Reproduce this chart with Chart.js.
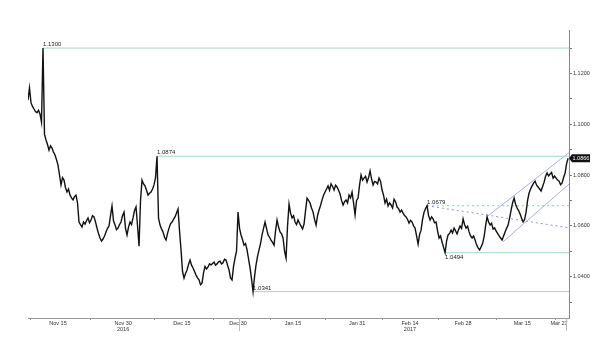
<!DOCTYPE html>
<html>
<head>
<meta charset="utf-8">
<script src="https://cdn.jsdelivr.net/npm/chart.js@4/dist/chart.umd.min.js"></script>
<style>
  html, body { margin: 0; background: #fff; }
</style>
</head>
<body>
<canvas id="miGrafico" width="600" height="352"></canvas>
<script>
// Cotización EUR/USD (dos lecturas por cada paso de media sesión)
const precios = [
  1.1095, 1.1143, 1.1085, 1.1070, 1.1060, 1.1050, 1.1045, 1.1055, 1.1040, 1.1008,
  1.1300, 1.0960, 1.0938, 1.0920, 1.0898, 1.0915, 1.0906, 1.0890, 1.0879, 1.0860,
  1.0839, 1.0800, 1.0761, 1.0790, 1.0780, 1.0750, 1.0733, 1.0745, 1.0721, 1.0710,
  1.0702, 1.0715, 1.0721, 1.0690, 1.0615, 1.0605, 1.0595, 1.0615, 1.0607, 1.0620,
  1.0631, 1.0612, 1.0623, 1.0640, 1.0635, 1.0615, 1.0591, 1.0570, 1.0552, 1.0540,
  1.0548, 1.0560, 1.0576, 1.0590, 1.0599, 1.0640, 1.0678, 1.0620, 1.0603, 1.0585,
  1.0591, 1.0605, 1.0615, 1.0640, 1.0654, 1.0590, 1.0564, 1.0595, 1.0615, 1.0605,
  1.0631, 1.0660, 1.0674, 1.0600, 1.0520, 1.0700, 1.0780, 1.0765, 1.0757, 1.0740,
  1.0721, 1.0728, 1.0733, 1.0745, 1.0761, 1.0790, 1.0874, 1.0630, 1.0603, 1.0588,
  1.0576, 1.0555, 1.0544, 1.0570, 1.0591, 1.0608, 1.0615, 1.0625, 1.0635, 1.0650,
  1.0666, 1.0580, 1.0505, 1.0420, 1.0394, 1.0412, 1.0426, 1.0448, 1.0465, 1.0445,
  1.0434, 1.0420, 1.0406, 1.0395, 1.0387, 1.0368, 1.0374, 1.0415, 1.0440, 1.0430,
  1.0438, 1.0450, 1.0446, 1.0452, 1.0457, 1.0445, 1.0450, 1.0458, 1.0461, 1.0450,
  1.0454, 1.0468, 1.0465, 1.0445, 1.0426, 1.0395, 1.0387, 1.0440, 1.0473, 1.0500,
  1.0654, 1.0590, 1.0564, 1.0545, 1.0524, 1.0530, 1.0505, 1.0470, 1.0434, 1.0390,
  1.0341, 1.0400, 1.0446, 1.0480, 1.0505, 1.0530, 1.0564, 1.0590, 1.0615, 1.0590,
  1.0564, 1.0555, 1.0544, 1.0535, 1.0524, 1.0580, 1.0623, 1.0595, 1.0576, 1.0568,
  1.0552, 1.0500, 1.0473, 1.0600, 1.0686, 1.0650, 1.0631, 1.0640, 1.0615, 1.0605,
  1.0623, 1.0610, 1.0599, 1.0588, 1.0607, 1.0660, 1.0709, 1.0700, 1.0690, 1.0670,
  1.0654, 1.0625, 1.0603, 1.0640, 1.0662, 1.0680, 1.0702, 1.0720, 1.0733, 1.0745,
  1.0757, 1.0740, 1.0765, 1.0755, 1.0741, 1.0760, 1.0753, 1.0740, 1.0725, 1.0700,
  1.0682, 1.0695, 1.0702, 1.0690, 1.0721, 1.0710, 1.0733, 1.0690, 1.0643, 1.0700,
  1.0709, 1.0760, 1.0800, 1.0780, 1.0788, 1.0795, 1.0772, 1.0790, 1.0816, 1.0785,
  1.0761, 1.0775, 1.0772, 1.0765, 1.0788, 1.0775, 1.0741, 1.0720, 1.0690, 1.0705,
  1.0678, 1.0690, 1.0682, 1.0670, 1.0705, 1.0695, 1.0674, 1.0668, 1.0654, 1.0662,
  1.0650, 1.0640, 1.0635, 1.0625, 1.0611, 1.0622, 1.0615, 1.0600, 1.0591, 1.0560,
  1.0528, 1.0565, 1.0583, 1.0625, 1.0654, 1.0668, 1.0679, 1.0640, 1.0623, 1.0635,
  1.0627, 1.0612, 1.0615, 1.0580, 1.0552, 1.0560, 1.0536, 1.0515, 1.0494, 1.0540,
  1.0564, 1.0570, 1.0583, 1.0572, 1.0591, 1.0580, 1.0568, 1.0585, 1.0599, 1.0590,
  1.0627, 1.0605, 1.0591, 1.0598, 1.0576, 1.0560, 1.0552, 1.0560, 1.0544, 1.0525,
  1.0513, 1.0505, 1.0517, 1.0530, 1.0556, 1.0600, 1.0635, 1.0615, 1.0603, 1.0610,
  1.0587, 1.0592, 1.0580, 1.0570, 1.0560, 1.0552, 1.0544, 1.0560, 1.0576, 1.0590,
  1.0603, 1.0630, 1.0662, 1.0690, 1.0709, 1.0685, 1.0670, 1.0660, 1.0646, 1.0630,
  1.0615, 1.0625, 1.0654, 1.0700, 1.0729, 1.0745, 1.0757, 1.0768, 1.0776, 1.0760,
  1.0753, 1.0745, 1.0737, 1.0755, 1.0772, 1.0795, 1.0808, 1.0796, 1.0804, 1.0810,
  1.0788, 1.0796, 1.0788, 1.0780, 1.0776, 1.0762, 1.0769, 1.0790, 1.0808, 1.0845,
  1.0866
];

// Niveles marcados (líneas horizontales desde el punto donde se tocan)
const niveles = [1.1300, 1.0874, 1.0341, 1.0494];
const nivelesAbajo = [false, false, false, true];   // etiqueta bajo la línea
const nivelPunteado = 1.0679;

// Líneas de tendencia [posición, precio]
const canalSuperior = [[153.3, 1.0639], [180.3, 1.0888]];
const canalInferior = [[158.3, 1.0537], [180.3, 1.0764]];
const tendenciaBajista = [[133, 1.0679], [180.3, 1.0592]];

// Eje X: etiquetas de fecha y cortes de quincena
const etiquetasX = ['Nov 15', ['Nov 30', '2016'], 'Dec 15', 'Dec 30', 'Jan 15', 'Jan 31', ['Feb 14', '2017'], 'Feb 28', 'Mar 15', 'Mar 27'];
const posEtiquetasX = [10, 31.7, 51.3, 70, 88.3, 109.7, 127.3, 145, 164.7, 177];
const cortesX = [0.7, 20.7, 42.3, 61.7, 80.7, 99, 118.3, 136.7, 156.3, 175.7];
const cortesAnio = [70.3, 179.3];

// Eje Y
const ticksY = [1.03, 1.04, 1.05, 1.06, 1.07, 1.08, 1.09, 1.10, 1.11, 1.12, 1.13];

const paso = 0.5;       // dos lecturas por unidad del eje x
const xMax = 180.3;
const fuente = '"Liberation Sans", Arial, sans-serif';
const verde = '#9edcc6';
const azul = '#a9b0e2';

const posDe = (n) => precios.indexOf(n) * paso;

// ticks del eje x: cortes (sin texto) + etiquetas (sin marca)
const ticksX = cortesX.map(v => ({ value: v, label: '' }))
  .concat(posEtiquetasX.map((v, i) => ({ value: v, label: etiquetasX[i] })))
  .sort((a, b) => a.value - b.value);

const linea = (pts) => pts.map(p => ({ x: p[0], y: p[1] }));

const datasets = [
  {
    data: precios.map((v, i) => ({ x: i * paso, y: v })),
    borderColor: '#111', borderWidth: 1.4, pointRadius: 0, tension: 0, order: 0
  }
];
niveles.forEach(n => {
  datasets.push({
    data: [{ x: posDe(n), y: n }, { x: xMax, y: n }],
    borderColor: verde, borderWidth: 1, pointRadius: 0, order: 5
  });
});
datasets.push({
  data: [{ x: posDe(nivelPunteado), y: nivelPunteado }, { x: xMax, y: nivelPunteado }],
  borderColor: '#7fd3b4', borderWidth: 1, borderDash: [2, 3], pointRadius: 0, order: 5
});
datasets.push({ data: linea(tendenciaBajista), borderColor: '#8a97d8', borderWidth: 1, borderDash: [2, 3], pointRadius: 0, order: 5 });
datasets.push({ data: linea(canalSuperior), borderColor: azul, borderWidth: 1, pointRadius: 0, order: 5 });
datasets.push({ data: linea(canalInferior), borderColor: azul, borderWidth: 1, pointRadius: 0, order: 5 });

// Etiquetas de niveles, cortes de año y recuadro del último precio
const anotaciones = {
  id: 'anotaciones',
  afterDraw(chart) {
    const { ctx, scales: { x, y }, chartArea } = chart;
    ctx.save();
    ctx.font = '6px ' + fuente;
    ctx.fillStyle = '#222';
    ctx.textAlign = 'left';
    niveles.concat([nivelPunteado]).forEach((n, i) => {
      const px = x.getPixelForValue(posDe(n));
      const py = y.getPixelForValue(n);
      if (nivelesAbajo[i]) {
        ctx.textBaseline = 'top';
        ctx.fillText(n.toFixed(4), px, py + 2);
      } else {
        ctx.textBaseline = 'bottom';
        ctx.fillText(n.toFixed(4), px, py - 0.5);
      }
    });

    ctx.strokeStyle = '#bbb';
    ctx.lineWidth = 1;
    cortesAnio.forEach(v => {
      const px = Math.round(x.getPixelForValue(v)) + 0.5;
      ctx.beginPath();
      ctx.moveTo(px, chartArea.bottom);
      ctx.lineTo(px, chartArea.bottom + 13);
      ctx.stroke();
    });

    const ultimo = precios[precios.length - 1];
    const py = y.getPixelForValue(ultimo);
    const x0 = chartArea.right;
    ctx.fillStyle = '#111';
    ctx.beginPath();
    ctx.moveTo(x0, py);
    ctx.lineTo(x0 + 3, py - 4);
    ctx.lineTo(x0 + 21, py - 4);
    ctx.lineTo(x0 + 21, py + 4);
    ctx.lineTo(x0 + 3, py + 4);
    ctx.closePath();
    ctx.fill();
    ctx.fillStyle = '#fff';
    ctx.font = '5.5px ' + fuente;
    ctx.textBaseline = 'middle';
    ctx.fillText(ultimo.toFixed(4), x0 + 3.5, py + 0.5);
    ctx.restore();
  }
};

const config = {
  type: 'line',
  data: { datasets },
  options: {
    responsive: false,
    animation: false,
    events: [],
    layout: { padding: { left: 28, top: 30, right: 0, bottom: 0 } },
    plugins: { legend: { display: false }, tooltip: { enabled: false } },
    scales: {
      x: {
        type: 'linear',
        min: 0,
        max: xMax,
        border: { color: '#999', width: 1 },
        grid: {
          drawOnChartArea: false,
          drawTicks: true,
          tickLength: 2,
          tickColor: (c) => (ticksX[c.index] && ticksX[c.index].label === '') ? '#999' : 'rgba(0,0,0,0)'
        },
        afterBuildTicks: (s) => { s.ticks = ticksX.map(t => ({ value: t.value })); },
        afterFit: (s) => { s.height = 34; },
        ticks: {
          autoSkip: false,
          maxRotation: 0,
          padding: 0,
          color: '#333',
          font: { family: fuente, size: 5.5, lineHeight: 1.1 },
          callback: (v, i) => ticksX[i].label
        }
      },
      y: {
        type: 'linear',
        position: 'right',
        min: 1.0237,
        max: 1.1371,
        border: { color: '#888', width: 1 },
        grid: { drawOnChartArea: false, drawTicks: true, tickLength: 3, tickColor: '#777' },
        afterBuildTicks: (s) => { s.ticks = ticksY.map(v => ({ value: v })); },
        afterFit: (s) => { s.width = 31; },
        ticks: {
          padding: 1,
          color: '#333',
          font: { family: fuente, size: 5.5 },
          callback: (v) => (Math.round(v * 100) % 2 === 0) ? v.toFixed(4) : ''
        }
      }
    }
  },
  plugins: [anotaciones]
};

const ctx = document.getElementById('miGrafico').getContext('2d');
new Chart(ctx, config);
</script>
</body>
</html>
